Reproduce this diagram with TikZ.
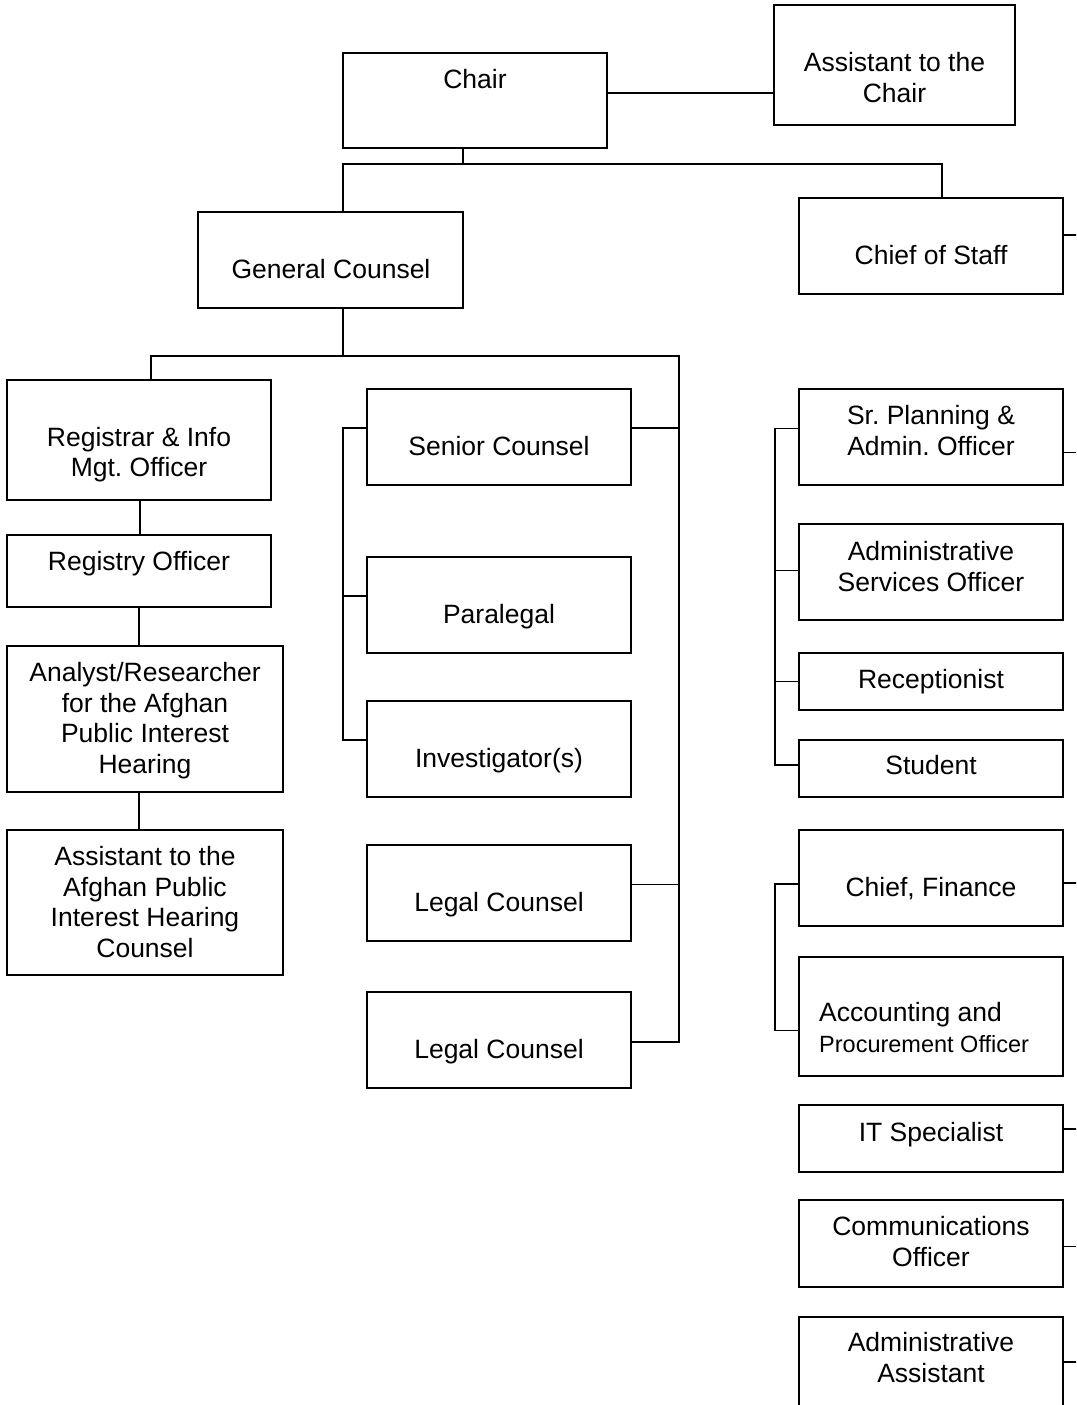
\documentclass[tikz,border=0pt]{standalone}
\usepackage{fontspec}
\setmainfont{Liberation Sans}
\frenchspacing
\begin{document}
\begin{tikzpicture}[x=1pt,y=-1pt,
  box/.style={draw=black,line width=1.7pt,inner sep=0pt,outer sep=0pt,anchor=north west},
  lbl/.style={inner sep=0pt,align=center,text height=22pt,text depth=3pt,
              font=\fontsize{26.5}{30.6}\selectfont\frenchspacing},
  lbltwo/.style={lbl,text height=52.6pt},
  lblfour/.style={lbl,text height=113.8pt},
  conn/.style={draw=black,line width=1.7pt}]
\useasboundingbox (0,0) rectangle (1076,1405);
\clip (0,0) rectangle (1076,1405);
\newcommand\orgbox[5]{\node[box,minimum width={(#4-#2)*1pt},minimum height={(#5-#3)*1pt}] (#1) at (#2,#3) {};}
% boxes
\orgbox{chair}{343}{53}{607}{148}
\orgbox{asst}{774}{5}{1015}{125}
\orgbox{gc}{198}{212}{463}{308}
\orgbox{cos}{799}{198}{1063}{294}
\orgbox{reg}{7}{380}{271}{500}
\orgbox{rego}{7}{535}{271}{607}
\orgbox{an}{7}{646}{283}{792}
\orgbox{asa}{7}{830}{283}{975}
\orgbox{sc}{367}{389}{631}{485}
\orgbox{para}{367}{557}{631}{653}
\orgbox{inv}{367}{701}{631}{797}
\orgbox{lca}{367}{845}{631}{941}
\orgbox{lcb}{367}{992}{631}{1088}
\orgbox{srp}{799}{389}{1063}{485}
\orgbox{ads}{799}{524}{1063}{620}
\orgbox{rec}{799}{653}{1063}{710}
\orgbox{stu}{799}{740}{1063}{797}
\orgbox{cf}{799}{830}{1063}{926}
\orgbox{acc}{799}{957}{1063}{1076}
\orgbox{its}{799}{1105}{1063}{1172}
\orgbox{com}{799}{1200}{1063}{1287}
\orgbox{aa}{799}{1317}{1063}{1437}
% texts
\node[lbl] (chairT) at (475,79) {Chair};
\node[lbltwo] (asstT) at (894.5,77.5) {Assistant to the\\Chair};
\node[lbl] (gcT) at (331,269) {General Counsel};
\node[lbl] (cosT) at (931,255) {Chief of Staff};
\node[lbltwo] (regT) at (139,452) {Registrar \& Info\\Mgt. Officer};
\node[lbl] (regoT) at (139,561) {Registry Officer};
\node[lblfour] (anT) at (145,718) {Analyst/Researcher\\for the Afghan\\Public Interest\\Hearing};
\node[lblfour] (asaT) at (145,902) {Assistant to the\\Afghan Public\\Interest Hearing\\Counsel};
\node[lbl] (scT) at (499,446) {Senior Counsel};
\node[lbl] (paraT) at (499,614) {Paralegal};
\node[lbl] (invT) at (499,758) {Investigator(s)};
\node[lbl] (lcaT) at (499,902) {Legal Counsel};
\node[lbl] (lcbT) at (499,1049) {Legal Counsel};
\node[lbltwo] (srpT) at (931,430.5) {Sr. Planning \&\\Admin. Officer};
\node[lbltwo] (adsT) at (931,566.5) {Administrative\\Services Officer};
\node[lbl] (recT) at (931,679) {Receptionist};
\node[lbl] (stuT) at (931,765) {Student};
\node[lbl] (cfT) at (931,887) {Chief, Finance};
\node[lbltwo,align=left,anchor=west] (accT) at (819,1027.5) {Accounting and\\\fontsize{23.5}{30.6}\selectfont Procurement Officer};
\node[lbl] (itsT) at (931,1132) {IT Specialist};
\node[lbltwo] (comT) at (931,1241.5) {Communications\\Officer};
\node[lbltwo] (aaT) at (931,1357.5) {Administrative\\Assistant};
% connectors
\coordinate (c1) at ([yshift=7.5pt]chair.east);
\draw[conn] (c1) -- (c1 -| asst.west);
\coordinate (cs) at ([xshift=-12pt]chair.south);
\coordinate (cbus) at ([yshift=-16pt]cs);
\draw[conn] (cs) -- (cbus);
\draw[conn] ([xshift=12.5pt]gc.north) |- ([xshift=11pt]cos.north |- cbus) -- ([xshift=11pt]cos.north);
\coordinate (gs) at ([xshift=12.5pt]gc.south);
\coordinate (rb) at (679,356);
\draw[conn] (gs) |- (rb) |- ([yshift=-2pt]lcb.east);
\draw[conn] (gs |- rb) -| ([xshift=12pt]reg.north);
\coordinate (sce) at ([yshift=9pt]sc.east);
\draw[conn] (sce) -- (sce -| rb);
\coordinate (lce) at ([yshift=8.5pt]lca.east);
\draw[conn] (lce) -- (lce -| rb);
\draw[conn] ([yshift=9pt]sc.west) -- ++(-24pt,0) |- ([yshift=9pt]inv.west);
\draw[conn] ([yshift=9pt]para.west) -- ++(-24pt,0);
\draw[conn] ([xshift=1pt]reg.south) -- ([xshift=1pt]rego.north);
\draw[conn] (rego.south) -- (rego.south |- an.north);
\draw[conn] (an.south -| rego.south) -- (asa.north -| rego.south);
% right column
\draw[conn] ([yshift=11pt]cos.east) -- ++(20pt,0);
\draw[conn] ([yshift=-15.5pt]srp.east) -- ++(20pt,0);
\draw[conn] ([yshift=-5pt]cf.east) -- ++(20pt,0);
\draw[conn] ([yshift=9.5pt]its.east) -- ++(20pt,0);
\draw[conn] ([yshift=-3pt]com.east) -- ++(20pt,0);
\draw[conn] ([yshift=15pt]aa.east) -- ++(20pt,0);
\draw[conn] ([yshift=8.5pt]srp.west) -- ++(-24pt,0) |- ([yshift=3.5pt]stu.west);
\draw[conn] ([yshift=1.5pt]ads.west) -- ++(-24pt,0);
\draw[conn] (rec.west) -- ++(-24pt,0);
\draw[conn] ([yshift=-6pt]cf.west) -- ++(-24pt,0) |- ([yshift=-14pt]acc.west);
\end{tikzpicture}
\end{document}
